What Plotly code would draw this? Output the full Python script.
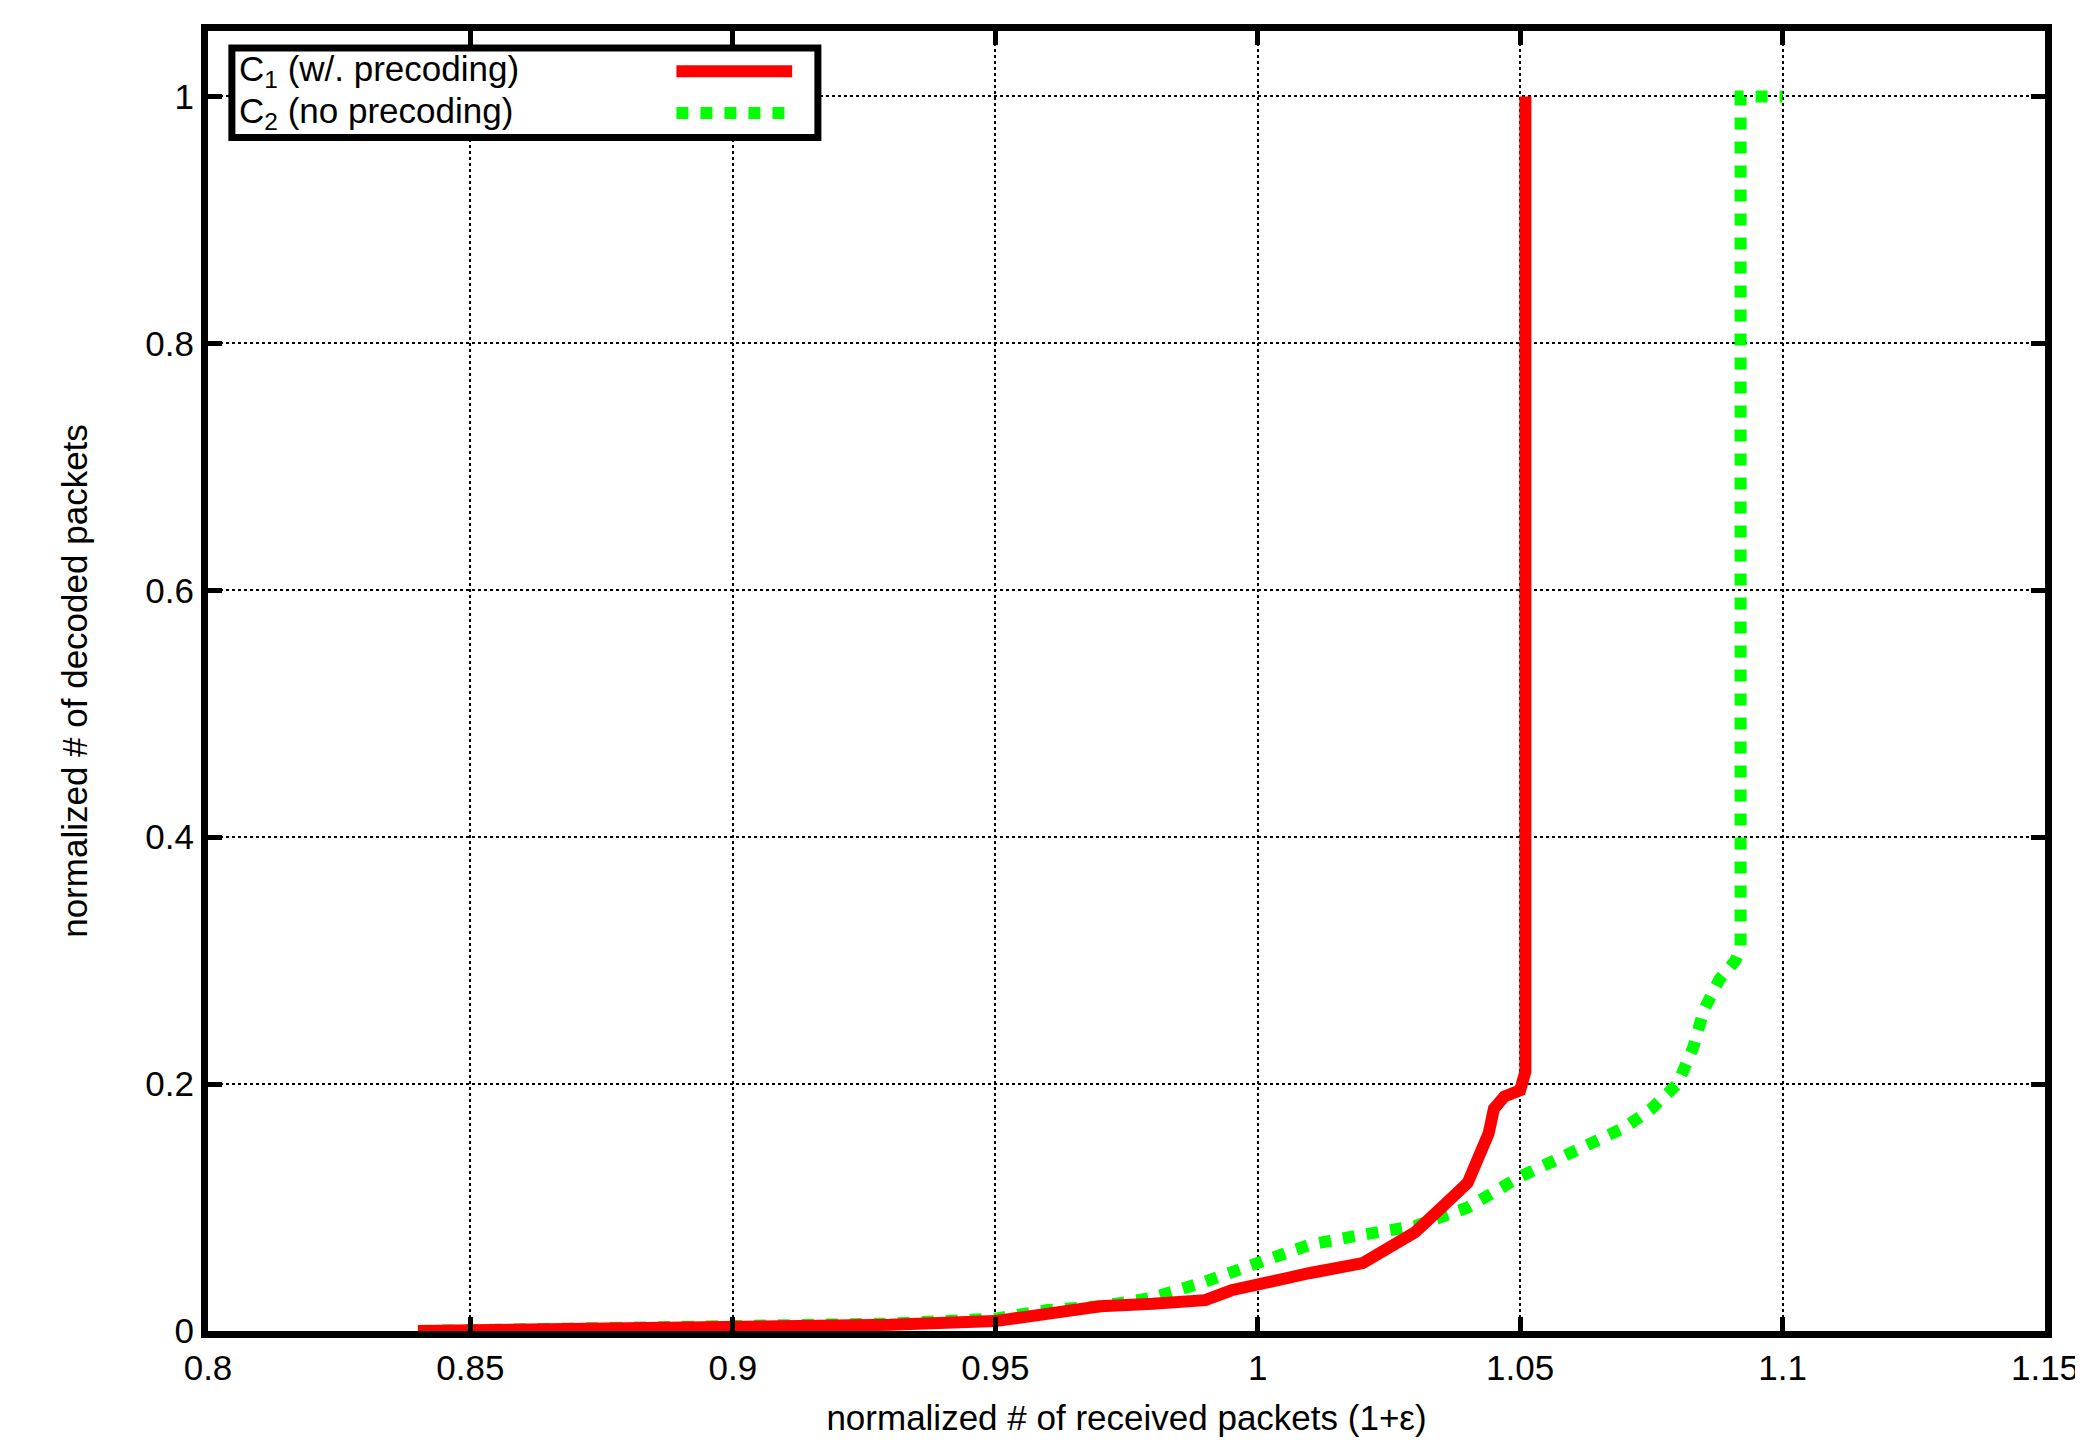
import plotly.graph_objects as go

red_x = [0.84,0.88,0.9,0.93,0.95,0.96,0.97,0.98,0.99,0.995,1.0,1.005,1.01,1.02,1.025,1.03,1.035,1.04,1.042,1.044,1.045,1.047,1.05,1.051,1.051]
red_y = [0,0.002,0.003,0.005,0.008,0.015,0.02,0.022,0.025,0.033,0.038,0.043,0.047,0.055,0.068,0.08,0.1,0.12,0.14,0.16,0.18,0.19,0.195,0.21,1.0]
grn_x = [0.84,0.9,0.93,0.95,0.96,0.97,0.98,0.99,1.0,1.01,1.02,1.03,1.04,1.05,1.06,1.07,1.075,1.08,1.083,1.085,1.088,1.091,1.092,1.092,1.1]
grn_y = [0,0.003,0.006,0.01,0.017,0.02,0.027,0.04,0.055,0.07,0.078,0.085,0.1,0.125,0.145,0.165,0.18,0.2,0.23,0.26,0.285,0.3,0.31,1.0,1.0]
names = ["C<sub>1</sub> (w/. precoding)", "C<sub>2</sub> (no precoding)"]
xticks = [0.8,0.85,0.9,0.95,1,1.05,1.1,1.15]
yticks = [0,0.2,0.4,0.6,0.8,1]

fig = go.Figure()
fig.add_trace(go.Scatter(x=grn_x, y=grn_y, mode="lines", line=dict(color="#00ff00", width=12, dash="dot"), name=names[1]))
fig.add_trace(go.Scatter(x=red_x, y=red_y, mode="lines", line=dict(color="#ff0000", width=12), name=names[0]))

ax = dict(showline=True, linecolor="black", linewidth=7, mirror="ticks", ticks="inside", ticklen=14,
          tickwidth=5, tickcolor="black", showgrid=True, gridcolor="black", griddash="dot", gridwidth=2,
          zeroline=False, tickfont=dict(size=35, color="black"), title_font=dict(size=35, color="black"))
fig.update_xaxes(range=[0.8,1.15], tickvals=xticks, ticktext=[f"{v:g}" for v in xticks],
                 title_text="normalized # of received packets (1+ε)", title_standoff=22, **ax)
fig.update_yaxes(range=[0,1.053], tickvals=yticks, ticktext=[f"{v:g}" for v in yticks],
                 title_text="normalized # of decoded packets", title_standoff=50, **ax)

fig.add_shape(type="rect", xref="paper", yref="paper", x0=0.013, x1=0.332, y0=0.918, y1=0.987,
              line=dict(color="black", width=7), fillcolor="white", layer="above")
fig.add_shape(type="line", xref="paper", yref="paper", x0=0.255, x1=0.318, y0=0.969, y1=0.969,
              line=dict(color="#ff0000", width=12), layer="above")
fig.add_shape(type="line", xref="paper", yref="paper", x0=0.255, x1=0.318, y0=0.937, y1=0.937,
              line=dict(color="#00ff00", width=12, dash="dot"), layer="above")
for i, yy in enumerate([0.969, 0.937]):
    fig.add_annotation(xref="paper", yref="paper", x=0.016, y=yy, text=names[i], showarrow=False,
                       xanchor="left", yanchor="middle", font=dict(size=35, color="black"))

fig.update_layout(width=2083, height=1450, showlegend=False, plot_bgcolor="white", paper_bgcolor="white",
                  font=dict(family="Liberation Sans, Arial, sans-serif", color="black"),
                  margin=dict(l=200, r=44, t=23, b=127))
fig.write_html("out.html")
